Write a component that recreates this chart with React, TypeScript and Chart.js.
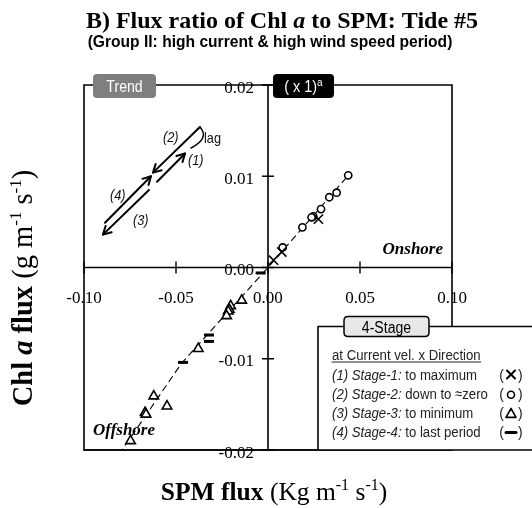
import React, { useEffect, useRef } from "react";
import { Chart, registerables } from "chart.js";

Chart.register(...registerables);

// ---------- data ----------
const xTickValues = [-0.1, -0.05, 0, 0.05, 0.1];
const xTickLabels = ["-0.10", "-0.05", "0.00", "0.05", "0.10"];
const yTickValues = [0.02, 0.01, 0, -0.01, -0.02];
const yTickLabels = ["0.02", "0.01", "0.00", "-0.01", "-0.02"];

// Stage-1: to maximum (x)
const stage1X = [0.0274, 0.0075, 0.003];
const stage1Y = [0.0053, 0.0017, 0.0008];
// Stage-2: down to ~zero (o)
const stage2X = [0.0436, 0.0373, 0.0333, 0.0288, 0.0246, 0.0237, 0.0187, 0.008];
const stage2Y = [0.0101, 0.0082, 0.0077, 0.0064, 0.0056, 0.0055, 0.0044, 0.0022];
// Stage-3: to minimum (triangle)
const stage3X = [-0.0143, -0.0203, -0.021, -0.0216, -0.0225, -0.0379, -0.0621, -0.0549, -0.0668, -0.0663, -0.0747];
const stage3Y = [-0.0036, -0.0042, -0.0046, -0.0048, -0.0053, -0.0089, -0.0141, -0.0152, -0.0159, -0.0161, -0.019];
// Stage-4: to last period (dash)
const stage4X = [-0.0321, -0.0321, -0.0462, -0.004];
const stage4Y = [-0.0074, -0.0081, -0.0104, -0.0006];
// dashed fit line
const fitX = [-0.081, -0.047, 0, 0.045];
const fitY = [-0.0205, -0.0105, 0, 0.0104];

// Trend schematic (data units)
const trendArrows = [
  { from: [-0.0603, 0.0094], to: [-0.0451, 0.0125] },
  { from: [-0.037, 0.0154], to: [-0.0625, 0.0104] },
  { from: [-0.0886, 0.0049], to: [-0.0636, 0.01] },
  { from: [-0.0647, 0.0085], to: [-0.0897, 0.0036] },
];
const lagCurve = { from: [-0.037, 0.0154], ctrl: [-0.0315, 0.0142], to: [-0.0418, 0.0131] };
const trendLabels = [
  { text: "(2)", at: [-0.0571, 0.01377], italic: true },
  { text: "(1)", at: [-0.0435, 0.01126], italic: true },
  { text: "(4)", at: [-0.0859, 0.00743], italic: true },
  { text: "(3)", at: [-0.0734, 0.0047], italic: true },
  { text: "lag", at: [-0.0348, 0.01366], italic: false },
];

const legendRows = [
  { tag: "(1) Stage-1:", desc: " to maximum", sym: "x" },
  { tag: "(2) Stage-2:", desc: " down to \u2248zero", sym: "o" },
  { tag: "(3) Stage-3:", desc: " to minimum", sym: "t" },
  { tag: "(4) Stage-4:", desc: " to last period", sym: "d" },
];

const toPts = (xs: number[], ys: number[]) => xs.map((x, i) => ({ x, y: ys[i] }));

type Part = { t: string; f: string; dy?: number; sx?: number };

function richWidth(ctx: CanvasRenderingContext2D, parts: Part[]) {
  let w = 0;
  for (const p of parts) {
    ctx.font = p.f;
    w += ctx.measureText(p.t).width * (p.sx ?? 1);
  }
  return w;
}

function drawRich(
  ctx: CanvasRenderingContext2D,
  parts: Part[],
  x: number,
  y: number,
  align: "left" | "center" | "right",
  color: string
) {
  const w = richWidth(ctx, parts);
  let cx = align === "left" ? x : align === "center" ? x - w / 2 : x - w;
  const start = cx;
  ctx.textAlign = "left";
  ctx.textBaseline = "alphabetic";
  ctx.fillStyle = color;
  for (const p of parts) {
    ctx.font = p.f;
    const sx = p.sx ?? 1;
    const pw = ctx.measureText(p.t).width * sx;
    ctx.save();
    ctx.translate(cx, y + (p.dy ?? 0));
    ctx.scale(sx, 1);
    ctx.fillText(p.t, 0, 0);
    ctx.restore();
    cx += pw;
  }
  return { start, end: cx };
}

function roundRect(ctx: CanvasRenderingContext2D, x: number, y: number, w: number, h: number, r: number) {
  ctx.beginPath();
  ctx.moveTo(x + r, y);
  ctx.lineTo(x + w - r, y);
  ctx.quadraticCurveTo(x + w, y, x + w, y + r);
  ctx.lineTo(x + w, y + h - r);
  ctx.quadraticCurveTo(x + w, y + h, x + w - r, y + h);
  ctx.lineTo(x + r, y + h);
  ctx.quadraticCurveTo(x, y + h, x, y + h - r);
  ctx.lineTo(x, y + r);
  ctx.quadraticCurveTo(x, y, x + r, y);
  ctx.closePath();
}

function arrow(ctx: CanvasRenderingContext2D, x1: number, y1: number, x2: number, y2: number) {
  ctx.beginPath();
  ctx.moveTo(x1, y1);
  ctx.lineTo(x2, y2);
  ctx.stroke();
  const a = Math.atan2(y2 - y1, x2 - x1);
  const L = 9;
  const s = 0.5;
  ctx.beginPath();
  ctx.moveTo(x2 - L * Math.cos(a - s), y2 - L * Math.sin(a - s));
  ctx.lineTo(x2, y2);
  ctx.lineTo(x2 - L * Math.cos(a + s), y2 - L * Math.sin(a + s));
  ctx.stroke();
}

const SERIF = '"Liberation Serif", "Times New Roman", serif';
const SANS = '"Liberation Sans", Arial, sans-serif';

const decorPlugin = {
  id: "decor",
  beforeDraw(chart: any) {
    const ctx = chart.ctx as CanvasRenderingContext2D;
    ctx.save();
    ctx.fillStyle = "#ffffff";
    ctx.fillRect(0, 0, chart.width, chart.height);
    ctx.restore();
  },
  beforeDatasetsDraw(chart: any) {
    const ctx = chart.ctx as CanvasRenderingContext2D;
    const xs = chart.scales.x;
    const ys = chart.scales.y;
    const X = (v: number) => xs.getPixelForValue(v);
    const Y = (v: number) => ys.getPixelForValue(v);
    const { left, right, top, bottom } = chart.chartArea;
    ctx.save();
    // tick labels
    ctx.fillStyle = "#000";
    ctx.font = `17px ${SERIF}`;
    ctx.textBaseline = "alphabetic";
    ctx.textAlign = "center";
    xTickValues.forEach((v, i) => {
      if (v === 0) {
        ctx.textAlign = "left";
        ctx.fillText(xTickLabels[i], X(v) - 15, Y(0) + 35);
        ctx.textAlign = "center";
      } else ctx.fillText(xTickLabels[i], X(v), Y(0) + 35);
    });
    ctx.textAlign = "right";
    yTickValues.forEach((v, i) => {
      ctx.fillText(yTickLabels[i], X(0) - 14, Y(v) + 7.5);
    });
    // frame
    ctx.strokeStyle = "#000";
    ctx.lineWidth = 1.6;
    ctx.beginPath();
    ctx.rect(left, top, right - left, bottom - top);
    ctx.stroke();
    // zero axes
    ctx.beginPath();
    ctx.moveTo(X(0), top);
    ctx.lineTo(X(0), bottom);
    ctx.moveTo(left, Y(0));
    ctx.lineTo(right, Y(0));
    ctx.stroke();
    // ticks
    ctx.lineWidth = 1.4;
    ctx.beginPath();
    xTickValues.forEach((v) => {
      ctx.moveTo(X(v), Y(0) - 6);
      ctx.lineTo(X(v), Y(0) + 6);
    });
    yTickValues.forEach((v) => {
      ctx.moveTo(X(0) - 6, Y(v));
      ctx.lineTo(X(0) + 6, Y(v));
    });
    ctx.stroke();
    ctx.restore();
  },
  afterDatasetsDraw(chart: any) {
    const ctx = chart.ctx as CanvasRenderingContext2D;
    const xs = chart.scales.x;
    const ys = chart.scales.y;
    const X = (v: number) => xs.getPixelForValue(v);
    const Y = (v: number) => ys.getPixelForValue(v);
    const { left, right, top, bottom } = chart.chartArea;
    ctx.save();

    // Onshore / Offshore
    drawRich(ctx, [{ t: "Onshore", f: `italic bold 17px ${SERIF}` }], right - 9, Y(0) - 14, "right", "#000");
    drawRich(ctx, [{ t: "Offshore", f: `italic bold 17px ${SERIF}` }], left + 9, bottom - 15, "left", "#000");

    // Trend schematic
    ctx.strokeStyle = "#000";
    ctx.lineWidth = 2;
    ctx.lineCap = "round";
    ctx.lineJoin = "round";
    trendArrows.forEach((a) => arrow(ctx, X(a.from[0]), Y(a.from[1]), X(a.to[0]), Y(a.to[1])));
    ctx.lineWidth = 1.5;
    ctx.beginPath();
    ctx.moveTo(X(lagCurve.from[0]), Y(lagCurve.from[1]));
    ctx.quadraticCurveTo(X(lagCurve.ctrl[0]), Y(lagCurve.ctrl[1]), X(lagCurve.to[0]), Y(lagCurve.to[1]));
    ctx.stroke();
    trendLabels.forEach((l) => {
      drawRich(
        ctx,
        [{ t: l.text, f: `${l.italic ? "italic " : ""}15px ${SANS}`, sx: 0.85 }],
        X(l.at[0]),
        Y(l.at[1]),
        "left",
        "#111"
      );
    });

    // Tabs
    roundRect(ctx, left + 9, top - 11, 63, 24, 4);
    ctx.fillStyle = "#7f7f7f";
    ctx.fill();
    drawRich(ctx, [{ t: "Trend", f: `16px ${SANS}`, sx: 0.88 }], left + 40.5, top + 7, "center", "#fff");

    roundRect(ctx, X(0) + 5, top - 11, 61, 24, 4);
    ctx.fillStyle = "#000";
    ctx.fill();
    drawRich(
      ctx,
      [
        { t: "( x 1)", f: `16px ${SANS}`, sx: 0.9 },
        { t: "a", f: `10px ${SANS}`, dy: -6 },
      ],
      X(0) + 35.5,
      top + 7,
      "center",
      "#fff"
    );

    // Legend box
    const lx = right - 134;
    const ly = Y(0) + 59;
    ctx.fillStyle = "#fff";
    ctx.fillRect(lx, ly, chart.width - lx + 5, bottom - ly);
    ctx.strokeStyle = "#000";
    ctx.lineWidth = 1.6;
    ctx.beginPath();
    ctx.moveTo(lx, bottom);
    ctx.lineTo(lx, ly);
    ctx.lineTo(chart.width + 5, ly);
    ctx.moveTo(left, bottom);
    ctx.lineTo(chart.width + 5, bottom);
    ctx.stroke();

    roundRect(ctx, lx + 26, ly - 10, 85, 20, 4);
    ctx.fillStyle = "#e8e8e8";
    ctx.fill();
    ctx.lineWidth = 1.5;
    ctx.stroke();
    drawRich(ctx, [{ t: "4-Stage", f: `16px ${SANS}`, sx: 0.88 }], lx + 68.5, ly + 6, "center", "#000");

    const tx = lx + 14;
    const lc = "#222";
    const head = drawRich(ctx, [{ t: "at Current vel. x Direction", f: `15.5px ${SANS}`, sx: 0.85 }], tx, ly + 33, "left", lc);
    ctx.strokeStyle = lc;
    ctx.lineWidth = 1;
    ctx.beginPath();
    ctx.moveTo(head.start, ly + 35.5);
    ctx.lineTo(head.end, ly + 35.5);
    ctx.stroke();

    legendRows.forEach((r, i) => {
      const by = ly + 53 + i * 19.2;
      drawRich(
        ctx,
        [
          { t: r.tag, f: `italic 15.5px ${SANS}`, sx: 0.85 },
          { t: r.desc, f: `15.5px ${SANS}`, sx: 0.85 },
        ],
        tx,
        by,
        "left",
        lc
      );
      // symbol group
      const cx = lx + 193;
      drawRich(ctx, [{ t: "(", f: `15.5px ${SANS}`, sx: 0.9 }], cx - 7, by, "right", lc);
      drawRich(ctx, [{ t: ")", f: `15.5px ${SANS}`, sx: 0.9 }], cx + 7, by, "left", lc);
      const my = by - 5;
      ctx.strokeStyle = "#000";
      ctx.beginPath();
      if (r.sym === "x") {
        ctx.lineWidth = 2;
        ctx.moveTo(cx - 4, my - 4);
        ctx.lineTo(cx + 4, my + 4);
        ctx.moveTo(cx + 4, my - 4);
        ctx.lineTo(cx - 4, my + 4);
      } else if (r.sym === "o") {
        ctx.lineWidth = 1.6;
        ctx.arc(cx, my + 1, 3.5, 0, Math.PI * 2);
      } else if (r.sym === "t") {
        ctx.lineWidth = 1.6;
        ctx.moveTo(cx, my - 4.5);
        ctx.lineTo(cx + 5, my + 4.5);
        ctx.lineTo(cx - 5, my + 4.5);
        ctx.closePath();
      } else {
        ctx.lineWidth = 3;
        ctx.moveTo(cx - 5, my + 0.5);
        ctx.lineTo(cx + 5, my + 0.5);
      }
      ctx.stroke();
    });

    // Titles
    drawRich(
      ctx,
      [
        { t: "B) Flux ratio of Chl ", f: `bold 24px ${SERIF}` },
        { t: "a", f: `italic bold 24px ${SERIF}` },
        { t: " to SPM: Tide #5", f: `bold 24px ${SERIF}` },
      ],
      282,
      28,
      "center",
      "#000"
    );
    drawRich(
      ctx,
      [{ t: "(Group II: high current & high wind speed period)", f: `bold 16.5px ${SANS}`, sx: 0.945 }],
      270,
      47,
      "center",
      "#000"
    );

    // X axis title
    drawRich(
      ctx,
      [
        { t: "SPM flux ", f: `bold 25.5px ${SERIF}` },
        { t: "(Kg m", f: `25.5px ${SERIF}` },
        { t: "-1", f: `16px ${SERIF}`, dy: -10 },
        { t: " s", f: `25.5px ${SERIF}` },
        { t: "-1", f: `16px ${SERIF}`, dy: -10 },
        { t: ")", f: `25.5px ${SERIF}` },
      ],
      274,
      500,
      "center",
      "#000"
    );

    // Y axis title (rotated)
    ctx.save();
    ctx.translate(32, 288);
    ctx.rotate(-Math.PI / 2);
    drawRich(
      ctx,
      [
        { t: "Chl ", f: `bold 28.5px ${SERIF}` },
        { t: "a", f: `italic bold 28.5px ${SERIF}` },
        { t: " flux ", f: `bold 28.5px ${SERIF}` },
        { t: "(g m", f: `28.5px ${SERIF}` },
        { t: "-1", f: `17px ${SERIF}`, dy: -11 },
        { t: " s", f: `28.5px ${SERIF}` },
        { t: "-1", f: `17px ${SERIF}`, dy: -11 },
        { t: ")", f: `28.5px ${SERIF}` },
      ],
      0,
      0,
      "center",
      "#000"
    );
    ctx.restore();

    ctx.restore();
  },
};

export default function App() {
  const ref = useRef<HTMLCanvasElement | null>(null);
  useEffect(() => {
    if (!ref.current) return;
    const chart = new Chart(ref.current, {
      type: "scatter",
      data: {
        datasets: [
          {
            label: "Stage-1",
            data: toPts(stage1X, stage1Y),
            pointStyle: "crossRot",
            pointRadius: 6.5,
            borderColor: "#000",
            backgroundColor: "#000",
            pointBorderWidth: 1.6,
          },
          {
            label: "Stage-2",
            data: toPts(stage2X, stage2Y),
            pointStyle: "circle",
            pointRadius: 3.6,
            borderColor: "#000",
            backgroundColor: "#fff",
            pointBorderWidth: 1.6,
          },
          {
            label: "Stage-3",
            data: toPts(stage3X, stage3Y),
            pointStyle: "triangle",
            pointRadius: 5.5,
            borderColor: "#000",
            backgroundColor: "#fff",
            pointBorderWidth: 1.6,
          },
          {
            label: "Stage-4",
            data: toPts(stage4X, stage4Y),
            pointStyle: "line",
            pointRadius: 5,
            borderColor: "#000",
            backgroundColor: "#000",
            pointBorderWidth: 3,
          },
          {
            type: "line",
            label: "fit",
            data: toPts(fitX, fitY),
            showLine: true,
            borderColor: "#000",
            borderWidth: 1.1,
            borderDash: [7, 4],
            pointRadius: 0,
            tension: 0,
            fill: false,
          } as any,
        ],
      },
      options: {
        responsive: false,
        animation: false,
        events: [],
        layout: { padding: { left: 84, right: 80, top: 85, bottom: 58 } },
        scales: {
          x: { type: "linear", min: -0.1, max: 0.1, display: false },
          y: { type: "linear", min: -0.02, max: 0.02, display: false },
        },
        plugins: {
          legend: { display: false },
          title: { display: false },
          tooltip: { enabled: false },
        },
      },
      plugins: [decorPlugin],
    });
    return () => chart.destroy();
  }, []);

  return (
    <div style={{ position: "fixed", left: 0, top: 0, width: 532, height: 508, background: "#fff" }}>
      <canvas ref={ref} width={532} height={508} style={{ display: "block", width: 532, height: 508 }} />
    </div>
  );
}
